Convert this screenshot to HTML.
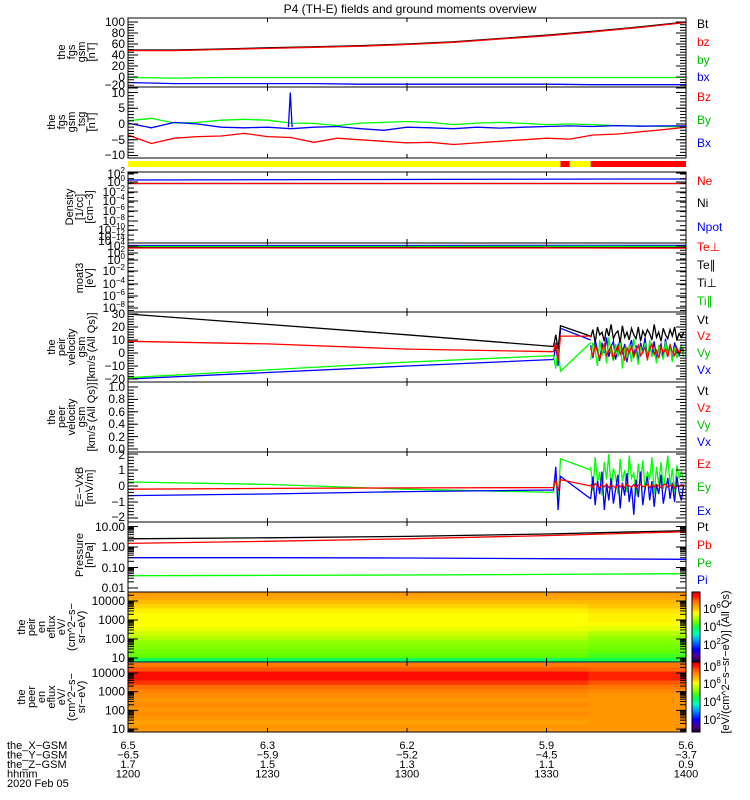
<!DOCTYPE html>
<html><head><meta charset="utf-8"><style>
html,body{margin:0;padding:0;background:#fff;}
svg{display:block;font-family:"Liberation Sans",sans-serif;}
</style></head><body>
<svg id="chart" width="750" height="800" viewBox="0 0 750 800">
<rect x="0" y="0" width="750" height="800" fill="#fff"/>
<text x="410" y="13" font-size="12" text-anchor="middle">P4 (TH-E) fields and ground moments overview</text>
<g id="root"></g>
</svg>
<script>
// ---------- data ----------
const timeTicks = [0, 30, 60, 90, 120];
const xTickLabels = ["1200","1230","1300","1330","1400"];
const xGsm = ["6.5","6.3","6.2","5.9","5.6"];
const yGsm = ["-6.5","-5.9","-5.2","-4.5","-3.7"];
const zGsm = ["1.7","1.5","1.3","1.1","0.9"];

const bTimes = [0,10,20,30,40,50,60,70,80,90,100,110,120];
const btVals = [49,49,51,53,55,57,60,64,70,76,83,91,100];
const bzVals = [48,48,50,52,54,56,59,63,69,75,82,90,99];
const byVals = [-1,-2,-1,-1,-1,-1,-1,-1,-1,-1,-1,-1,-1];
const bxVals = [-10,-12,-12,-12,-12,-13,-13,-13,-13,-13,-14,-14,-14];

const b2Times = [0,5,10,15,20,25,30,35,40,45,50,55,60,65,70,75,80,85,90,95,100,105,110,115,120];
const bz2Vals = [-3.5,-6.2,-4.5,-4,-3.8,-3,-4,-4.3,-5.8,-4.5,-5,-5.5,-6,-5.8,-6.5,-6,-5.5,-5,-4.5,-4.8,-3.5,-3.2,-2.5,-1.8,-1];
const by2Vals = [1,1.8,0.3,0.5,1.2,1.5,1.2,0.3,0.2,-0.5,0.3,0.5,0.8,0.5,-0.2,0.3,0.5,0.2,-0.2,0,-0.2,-0.5,-0.6,-0.8,-0.9];
const bx2Vals = [0.3,-1.2,0.5,0,-1,-1.2,-1,-1.5,-1,-0.8,-1.5,-2,-1,-1.2,-1.5,-1,-1.3,-1,-0.8,-0.6,-0.8,-0.5,-0.7,-0.6,-0.6];
const bxSpikeT = [34.5,34.9,35.3];
const bxSpikeV = [-1,10,-1];

const modeT = [0, 93, 95, 99.5, 120];
const modeC = ["#ffff00","#ff0000","#ffff00","#ff0000"];

const denTimes = [0, 108, 120];
const neVals = [0.47, 0.47, 0.47];
const npotVals = [2.8, 4.6, 4.6];
const tempTimes = [0, 60, 100, 120];
const teperpVals = [1000, 1000, 1000, 900];
const teparVals = [1500, 1500, 1400, 1300];
const tiparVals = [3200, 3200, 3600, 3400];
const tiperpVals = [6800, 6800, 7500, 7500];

const vSmoothT = [0, 30, 60, 91.5];
const vtSmooth = [30, 22, 14, 5];
const vzSmooth = [9, 7, 3, 1];
const vySmooth = [-19, -13, -7, -2];
const vxSmooth = [-20, -15, -10, -5];
const vGapT = [91.5, 92, 92.5, 93, 99.5];
const vtGap = [5, 14, 3, 21, 13];
const vzGap = [1, 8, -6, 13, 13];
const vyGap = [-2, -12, 4, -14, 8];
const vxGap = [-5, 6, -10, 19, 10];
const vtN = [12,18,8,20,14,16,9,19,13,22,11,15,17,8,21,12,16,10,19,14,11,20,9,17,13,18,15,10,22,12,16,9,19,14,11,18,13,20,10,15,12,16];
const vzN = [4,-3,6,1,-5,3,7,-2,2,5,-4,1,6,-1,3,-6,4,0,5,-3,2,6,-2,1,4,-5,3,7,-1,2,-4,5,0,3,-3,6,1,-2,4,0,2,3];
const vyN = [-5,8,2,-10,10,-2,5,-8,12,0,-6,7,-3,9,-12,4,-4,6,-7,11,1,-9,5,-1,8,-6,10,-3,3,-8,6,0,-5,9,-2,7,-7,4,-4,2,6,-3];
const vxN = [6,-4,10,2,-6,8,0,12,-3,5,9,-5,3,11,-1,7,-7,4,10,-2,6,-6,8,1,12,-4,5,-1,9,-5,3,7,-3,11,0,6,-6,8,2,-2,5,1];

const eSmoothT = [0, 30, 60, 91.5];
const eySmooth = [0.25, 0.1, -0.2, -0.4];
const ezSmooth = [-0.2, -0.15, -0.12, -0.1];
const exSmooth = [-0.6, -0.5, -0.35, -0.25];
const eGapT = [91.5, 92, 92.5, 93, 99.5];
const eyGap = [-0.4, 0.8, -1, 1.7, 1.0];
const ezGap = [-0.1, 0.4, -0.3, 0.4, 0];
const exGap = [-0.25, 1.2, -1.5, 0.6, -0.8];
const eyN = [1.2,-0.3,1.8,0.2,0.9,-0.6,1.5,0.4,2,-0.2,1.1,0.6,-0.5,1.7,0.3,1,-0.4,1.9,0.5,0.8,-0.6,1.4,0.2,1.6,-0.3,0.9,0.4,1.8,-0.5,1.2,0.1,1.5,-0.2,0.7,1.9,0,1.1,-0.4,1.3,0.5,0.9,0.3];
const exN = [-0.8,0.6,-1.2,0.3,-0.5,0.9,-1.5,0.1,-0.9,0.5,-1.1,-0.2,0.7,-1.4,0.2,-0.6,0.8,-1,0,-1.8,0.4,-0.7,0.9,-1.2,-0.1,0.6,-0.9,0.3,-1.3,0.1,-0.5,0.7,-1.1,-0.3,0.5,-0.8,0.2,-1,0.6,-0.4,-0.9,0.1];
const ezN = [0.1,-0.1,0.15,0,-0.12,0.08,-0.05,0.12,-0.1,0.05,0,-0.15,0.1,-0.05,0.08,-0.1,0.12,0,-0.08,0.1,-0.12,0.05,0.1,-0.05,0,0.12,-0.1,0.08,-0.06,0.1,0,-0.1,0.05,0.12,-0.08,0,0.1,-0.12,0.06,-0.04,0.08,0];

const pTimes = [0, 30, 60, 90, 120];
const ptVals = [2.5, 2.8, 3.3, 4.3, 6.3];
const pbVals = [1.5, 1.9, 2.5, 3.6, 5.6];
const peVals = [0.3, 0.3, 0.29, 0.27, 0.25];
const piVals = [0.04, 0.041, 0.043, 0.046, 0.05];

const specLogE = [4.4,4.16,3.93,3.69,3.45,3.22,2.98,2.74,2.51,2.27,2.03,1.8,1.56,1.32,1.09,0.85];
const specT = [0, 99, 120];
const ionFluxA = [6.4,6.3,6.1,5.9,5.7,5.6,5.6,5.6,5.5,5.3,5.1,4.9,4.8,4.7,4.6,4.0];
const ionFluxB = [6.4,6.3,6.1,6.0,5.8,5.7,5.7,5.6,5.4,5.1,4.9,4.8,4.7,4.6,4.4,4.1];
const eleFluxA = [7.3,7.6,8.1,8.1,7.8,7.4,7.2,7.1,7.0,7.1,7.0,7.1,7.0,6.9,7.0,6.9];
const eleFluxB = [7.3,7.5,7.9,7.9,7.6,7.3,7.1,7.0,7.0,7.0,7.0,7.0,7.0,7.0,7.0,6.9];

// ---------- helpers ----------
const NS = "http://www.w3.org/2000/svg";
const root = document.getElementById('root');
const X0 = 128, X1 = 686;
const xS = t => X0 + t * (X1 - X0) / 120;
function el(tag, attrs, parent) {
  const e = document.createElementNS(NS, tag);
  for (const k in attrs) e.setAttribute(k, attrs[k]);
  (parent || root).appendChild(e);
  return e;
}
function txt(x, y, s, size, color, anchor, parent) {
  const t = el('text', {x: x, y: y, 'font-size': size, fill: color || '#000', 'text-anchor': anchor || 'start'}, parent);
  t.textContent = s;
  return t;
}
let clipId = 0;
function panelClip(y0, y1) {
  const id = 'clip' + (clipId++);
  const cp = el('clipPath', {id: id});
  el('rect', {x: X0, y: y0, width: X1 - X0, height: y1 - y0}, cp);
  const g = el('g', {'clip-path': 'url(#' + id + ')'});
  return g;
}
function series(g, ts, vs, yf, color, name) {
  let d = '';
  for (let i = 0; i < ts.length; i++) d += (i ? 'L' : 'M') + xS(ts[i]).toFixed(1) + ' ' + yf(vs[i]).toFixed(1);
  const p = el('path', {d: d, fill: 'none', stroke: color, 'stroke-width': 1.3}, g);
  
  
  return p;
}
const noiseT = vtN.map((_, i) => 99.5 + i * 20 / 41);
function frame(y0, y1, name) {
  const r = el('rect', {x: X0, y: y0, width: X1 - X0, height: y1 - y0, fill: 'none', stroke: '#000', 'stroke-width': 1});
  
  
  timeTicks.forEach(t => {
    el('line', {x1: xS(t), x2: xS(t), y1: y0, y2: y0 + 4, stroke: '#000'});
    el('line', {x1: xS(t), x2: xS(t), y1: y1, y2: y1 - 4, stroke: '#000'});
  });
}
function yTicks(ys, majors) {
  ys.forEach(y => {
    el('line', {x1: X0, x2: X0 + 6, y1: y, y2: y, stroke: '#000'});
    el('line', {x1: X1, x2: X1 - 6, y1: y, y2: y, stroke: '#000'});
  });
  (majors || []).forEach(y => {
    el('line', {x1: X0, x2: X0 + 10, y1: y, y2: y, stroke: '#000'});
    el('line', {x1: X1, x2: X1 - 10, y1: y, y2: y, stroke: '#000'});
  });
}
function linTicks(yf, lo, hi, step, majStep) {
  const ys = [], ms = [];
  for (let v = lo; v <= hi + 1e-9; v += step) ys.push(yf(v));
  for (let v = lo; v <= hi + 1e-9; v += majStep) ms.push(yf(v));
  yTicks(ys, ms);
}
function yLabels(list, size) {
  list.forEach(([s, y]) => txt(125, y + 4, s, size || 12, '#000', 'end'));
}
function powLabel(exp, y) {
  const t = el('text', {x: 125, y: y + 4, 'font-size': 12, 'text-anchor': 'end'});
  t.appendChild(document.createTextNode('10'));
  const sp = el('tspan', {'font-size': 8, dy: -5}, t);
  sp.textContent = exp;
}
function axisTitle(lines, yc, xLast, name) {
  const g = el('g', {});
  
  
  const n = lines.length;
  lines.forEach((s, i) => {
    const x = xLast - (n - 1 - i) * 10;
    const t = el('text', {x: 0, y: 0, 'font-size': 11, 'text-anchor': 'middle', transform: 'translate(' + x + ',' + yc + ') rotate(-90)'}, g);
    t.textContent = s;
  });
}
function rightLabel(s, y, color, name) {
  const t = txt(697, y + 4, s, 12, color);
  
  
}
const cmStops = [[0,'#200030'],[0.08,'#500090'],[0.18,'#0000ff'],[0.3,'#0090ff'],[0.4,'#00ffc0'],[0.48,'#00ff60'],[0.56,'#60ff00'],[0.64,'#c0ff00'],[0.7,'#ffff00'],[0.76,'#ffc000'],[0.82,'#ff9000'],[0.88,'#ff6000'],[0.94,'#ff1000'],[1,'#e00000']];
function hex(c){return [1,3,5].map(i=>parseInt(c.substr(i,2),16));}
function cmap(f) {
  f = Math.max(0, Math.min(1, f));
  for (let i = 1; i < cmStops.length; i++) {
    if (f <= cmStops[i][0]) {
      const [f0, c0] = cmStops[i-1], [f1, c1] = cmStops[i];
      const a = (f - f0) / (f1 - f0), A = hex(c0), B = hex(c1);
      return 'rgb(' + A.map((v, k) => Math.round(v + (B[k] - v) * a)).join(',') + ')';
    }
  }
  return cmStops[cmStops.length-1][1];
}

// ---------- panel 1: fgs gsm ----------
{
  const y0 = 18, y1 = 87, yf = v => 77 - v * 0.55;
  const g = panelClip(y0, y1);
  series(g, bTimes, byVals, yf, '#00ff00', 'by-line');
  series(g, bTimes, bxVals, yf, '#0000ff', 'bx-line');
  series(g, bTimes, btVals, yf, '#000', 'bt-line');
  series(g, bTimes, bzVals, yf, '#ff0000', 'bz-line');
  frame(y0, y1, 'fgs-gsm-panel');
  linTicks(yf, -20, 100, 5, 20);
  yLabels([['100',22],['80',33],['60',44],['40',55],['20',66],['0',77],['\u221220',85]]);
  axisTitle(['the','fgs','gsm','[nT]'], 52, 95, 'fgs-gsm-axis-title');
  rightLabel('Bt', 24, '#000', 'legend-bt'); rightLabel('bz', 42, '#ff0000', 'legend-bz');
  rightLabel('by', 60, '#00c000', 'legend-by'); rightLabel('bx', 77, '#0000ff', 'legend-bx');
}
// ---------- panel 2: fgs gsm tsg ----------
{
  const y0 = 87, y1 = 158, yf = v => 124 - v * 3.15;
  const g = panelClip(y0, y1);
  series(g, b2Times, by2Vals, yf, '#00ff00', 'by-dtsg-line');
  series(g, b2Times, bx2Vals, yf, '#0000ff', 'bx-dtsg-line');
  series(g, bxSpikeT, bxSpikeV, yf, '#0000ff', 'bx-spike');
  series(g, b2Times, bz2Vals, yf, '#ff0000', 'bz-dtsg-line');
  frame(y0, y1, 'fgs-dtsg-panel');
  linTicks(yf, -10, 10, 1, 5);
  yLabels([['10',93],['5',108],['0',124],['\u22125',140],['\u221210',155]]);
  axisTitle(['the','fgs','gsm','_tsg','[nT]'], 122, 95, 'fgs-dtsg-axis-title');
  rightLabel('Bz', 97, '#ff0000', 'legend-bz-dtsg'); rightLabel('By', 120, '#00c000', 'legend-by-dtsg');
  rightLabel('Bx', 143, '#0000ff', 'legend-bx-dtsg');
}
// ---------- mode bar ----------
for (let i = 0; i < modeC.length; i++) {
  const r = el('rect', {x: xS(modeT[i]), y: 161, width: xS(modeT[i+1]) - xS(modeT[i]), height: 6, fill: modeC[i]});
  
  
}
// ---------- density ----------
{
  const y0 = 172, y1 = 243, yf = v => 182 - Math.log10(v) * 4.5;
  const g = panelClip(y0, y1);
  series(g, denTimes, npotVals, yf, '#0000ff', 'npot-line');
  series(g, denTimes, neVals, yf, '#000', 'ni-line');
  series(g, denTimes, neVals, yf, '#ff0000', 'ne-line');
  frame(y0, y1, 'density-panel');
  const ys = []; for (let y = 174; y < 242; y += 4.7) ys.push(y); yTicks(ys, [173,182,192,201,211,221,230]);
  [['2',174],['0',182],['\u22122',192],['\u22124',201],['\u22126',211],['\u22128',221],['\u221210',230],['\u221212',236],['\u221214',241]].forEach(([e,y])=>powLabel(e,y));
  axisTitle(['Density','[1/cc]','[cm\u22123]'], 207, 93, 'density-axis-title');
  rightLabel('Ne', 181, '#ff0000', 'legend-ne'); rightLabel('Ni', 203, '#000', 'legend-ni');
  rightLabel('Npot', 227, '#0000ff', 'legend-npot');
}
// ---------- moat3 temps ----------
{
  const y0 = 243, y1 = 312, yf = v => 245 + (4 - Math.log10(v)) * 3;
  const g = panelClip(y0, y1);
  series(g, tempTimes, tiperpVals, yf, '#0000ff', 'tiperp-line');
  series(g, tempTimes, tiparVals, yf, '#00ff00', 'tipar-line');
  series(g, tempTimes, teparVals, yf, '#000', 'tepar-line');
  series(g, tempTimes, teperpVals, yf, '#ff0000', 'teperp-line');
  frame(y0, y1, 'temperature-panel');
  const ys = []; for (let y = 246; y < 311; y += 4.3) ys.push(y); yTicks(ys, [246,253,260,271,284,296,308]);
  [['4',246],['2',253],['0',260],['\u22122',271],['\u22124',284],['\u22126',296],['\u22128',308]].forEach(([e,y])=>powLabel(e,y));
  axisTitle(['moat3','[eV]'], 278, 93, 'temperature-axis-title');
  rightLabel('Te\u22a5', 247, '#ff0000', 'legend-teperp'); rightLabel('Te\u2225', 265, '#000', 'legend-tepar');
  rightLabel('Ti\u22a5', 283, '#000', 'legend-tiperp'); rightLabel('Ti\u2225', 301, '#00c000', 'legend-tipar');
}
// ---------- ion velocity ----------
{
  const y0 = 312, y1 = 382, yf = v => 353 - v * 1.3;
  const g = panelClip(y0, y1);
  const sets = [[vxSmooth,vxGap,vxN,'#0000ff','vx'],[vySmooth,vyGap,vyN,'#00ff00','vy'],[vtSmooth,vtGap,vtN,'#000','vt'],[vzSmooth,vzGap,vzN,'#ff0000','vz']];
  sets.forEach(([s, gp, n, c, nm]) => {
    series(g, vSmoothT, s, yf, c, nm + '-smooth');
    series(g, vGapT, gp, yf, c, nm + '-gap');
    series(g, noiseT, n, yf, c, nm + '-burst');
  });
  frame(y0, y1, 'ion-velocity-panel');
  linTicks(yf, -20, 30, 2, 10);
  yLabels([['30',314],['20',327],['10',340],['0',353],['\u221210',366],['\u221220',379]]);
  axisTitle(['the','peir','velocity','gsm','[km/s (All Qs)]'], 347, 95, 'ion-velocity-axis-title');
  rightLabel('Vt', 320, '#000', 'legend-vt'); rightLabel('Vz', 336, '#ff0000', 'legend-vz');
  rightLabel('Vy', 353, '#00c000', 'legend-vy'); rightLabel('Vx', 370, '#0000ff', 'legend-vx');
}
// ---------- electron velocity (empty) ----------
{
  const y0 = 382, y1 = 452, yf = v => 449 - v * 62;
  frame(y0, y1, 'electron-velocity-panel');
  linTicks(yf, 0, 1, 0.05, 0.2);
  yLabels([['1.0',387],['0.8',399],['0.6',412],['0.4',424],['0.2',437],['0.0',449]]);
  axisTitle(['the','peer','velocity','gsm','[km/s (All Qs)]'], 417, 95, 'electron-velocity-axis-title');
  rightLabel('Vt', 391, '#000', 'legend-vt-e'); rightLabel('Vz', 408, '#ff0000', 'legend-vz-e');
  rightLabel('Vy', 425, '#00c000', 'legend-vy-e'); rightLabel('Vx', 442, '#0000ff', 'legend-vx-e');
}
// ---------- E field ----------
{
  const y0 = 452, y1 = 522, yf = v => 486 - v * 16;
  const g = panelClip(y0, y1);
  const sets = [[eySmooth,eyGap,eyN,'#00ff00','ey'],[exSmooth,exGap,exN,'#0000ff','ex'],[ezSmooth,ezGap,ezN,'#ff0000','ez']];
  sets.forEach(([s, gp, n, c, nm]) => {
    series(g, eSmoothT, s, yf, c, nm + '-smooth');
    series(g, eGapT, gp, yf, c, nm + '-gap');
    series(g, noiseT, n, yf, c, nm + '-burst');
  });
  frame(y0, y1, 'efield-panel');
  linTicks(yf, -2, 2, 0.2, 1);
  yLabels([['2',455],['1',470],['0',486],['\u22121',502],['\u22122',517]]);
  axisTitle(['E=\u2212VxB','[mV/m]'], 487, 93, 'efield-axis-title');
  rightLabel('Ez', 464, '#ff0000', 'legend-ez'); rightLabel('Ey', 487, '#00c000', 'legend-ey');
  rightLabel('Ex', 511, '#0000ff', 'legend-ex');
}
// ---------- pressure ----------
{
  const y0 = 522, y1 = 592, yf = v => 547 - Math.log10(v) * 20.5;
  const g = panelClip(y0, y1);
  series(g, pTimes, piVals, yf, '#00ff00', 'pi-line');
  series(g, pTimes, peVals, yf, '#0000ff', 'pe-line');
  series(g, pTimes, ptVals, yf, '#000', 'pt-line');
  series(g, pTimes, pbVals, yf, '#ff0000', 'pb-line');
  frame(y0, y1, 'pressure-panel');
  const ys = [];
  for (let d = -2; d <= 0; d++) for (let m = 1; m <= 9; m++) ys.push(yf(m * Math.pow(10, d)));
  yTicks(ys.filter(y => y > y0 && y < y1), [yf(10), yf(1), yf(0.1), yf(0.01)]);
  yLabels([['10.00',527],['1.00',547],['0.10',568],['0.01',588]]);
  axisTitle(['Pressure','[nPa]'], 555, 93, 'pressure-axis-title');
  rightLabel('Pt', 527, '#000', 'legend-pt'); rightLabel('Pb', 545, '#ff0000', 'legend-pb');
  rightLabel('Pe', 563, '#00c000', 'legend-pe'); rightLabel('Pi', 580, '#0000ff', 'legend-pi');
}
// ---------- spectrograms ----------
function spectro(y0, y1, yE, fluxA, fluxB, lo, hi, name, cbY0, cbY1, cbLabels) {
  const g = panelClip(y0, y1);
  
  
  [fluxA, fluxB].forEach((fl, s) => {
    specLogE.forEach((le, i) => {
      const ya = yE(le + 0.12), yb = yE(le - 0.12);
      const r = el('rect', {x: xS(specT[s]), y: ya - 0.5, width: xS(specT[s+1]) - xS(specT[s]) + 0.5, height: yb - ya + 1, fill: cmap((fl[i] - lo) / (hi - lo))}, g);
      
      
    });
  });
  frame(y0, y1, name + '-frame');
  const ys = [];
  for (let d = 0; d <= 4; d++) for (let m = 1; m <= 9; m++) ys.push(yE(Math.log10(m) + d));
  yTicks(ys.filter(y => y > y0 && y < y1), [1,2,3,4].map(d => yE(d)));
  yLabels([['10000', yE(4)], ['1000', yE(3)], ['100', yE(2)], ['10', yE(1)]]);
  // colorbar
  const cb = el('g', {});
  
  
  for (let y = cbY0; y < cbY1; y++) {
    const f = 1 - (y - cbY0 + 0.5) / (cbY1 - cbY0);
    el('rect', {x: 692, y: y, width: 8, height: 1.2, fill: cmap(f)}, cb);
  }
  el('rect', {x: 692, y: cbY0, width: 8, height: cbY1 - cbY0, fill: 'none', stroke: '#000'}, cb);
  cbLabels.forEach(([e, y]) => {
    const t = el('text', {x: 703, y: y + 4, 'font-size': 12}, cb);
    t.appendChild(document.createTextNode('10'));
    const sp = el('tspan', {'font-size': 8, dy: -5}, t); sp.textContent = e;
  });
}
spectro(592, 662, le => 601 + (4 - le) * 19, ionFluxA, ionFluxB, 0.5, 7.8, 'ion-spectrogram', 592, 662, [['6',609],['4',627],['2',645]]);
spectro(662, 732, le => 673 + (4 - le) * 18.7, eleFluxA, eleFluxB, 0.5, 8.5, 'electron-spectrogram', 662, 732, [['8',667],['6',684],['4',702],['2',720]]);
axisTitle(['the','peir','en','eflux','eV/','(cm^2\u2212s\u2212','sr\u2212eV)'], 627, 85, 'ion-spectrogram-axis-title');
axisTitle(['the','peer','en','eflux','eV/','(cm^2\u2212s\u2212','sr\u2212eV)'], 697, 85, 'electron-spectrogram-axis-title');
{
  const t = el('text', {x: 0, y: 0, 'font-size': 11, 'text-anchor': 'middle', transform: 'translate(729,662) rotate(-90)'});
  t.textContent = '[eV/(cm^2\u2212s\u2212sr\u2212eV)] (All Qs)';
  
  
}
// ---------- bottom annotation ----------
{
  const rows = [['the_X\u2212GSM', xGsm, 749], ['the_Y\u2212GSM', yGsm, 758.5], ['the_Z\u2212GSM', zGsm, 768], ['hhmm', xTickLabels, 777.5]];
  rows.forEach(([lab, vals, y]) => {
    const l = txt(7, y, lab, 11, '#000');
    
    
    vals.forEach((v, i) => {
      const t = txt(xS(timeTicks[i]), y, v.replace('-', '\u2212'), 11, '#000', 'middle');
      
      
    });
  });
  const d = txt(7, 787, '2020 Feb 05', 11, '#000');
  
  
}
</script>
</body></html>
